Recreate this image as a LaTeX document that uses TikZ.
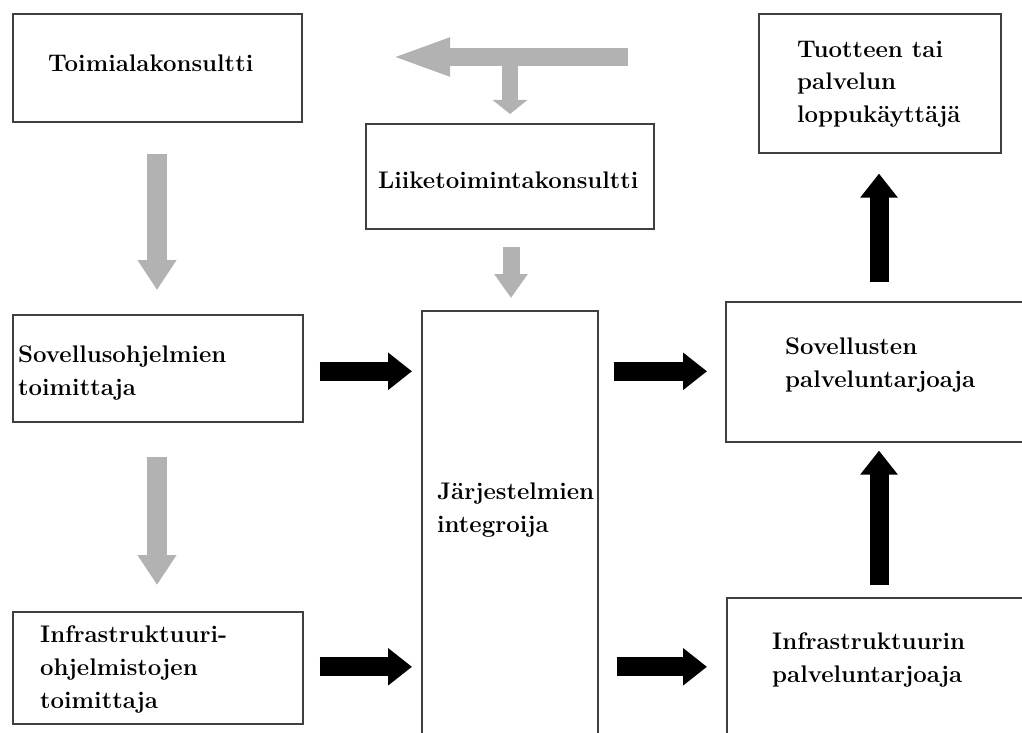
\documentclass[tikz,border=0pt]{standalone}
\usepackage{fontspec}
\setmainfont{Latin Modern Roman}
\usetikzlibrary{arrows.meta,calc}
\begin{document}
\begin{tikzpicture}[x=1pt,y=-1pt,
  box/.style={draw=black!75,line width=1.6pt,fill=white,inner sep=0pt,anchor=north west},
  lbl/.style={font=\fontsize{24}{33}\selectfont\bfseries,align=left,inner sep=0pt,anchor=base west},
  blk/.style={line width=19pt,-{Triangle[length=24pt,width=36pt]}},
  gry/.style={line width=20pt,gray!60,-{Triangle[length=30pt,width=37pt]}},
  gryT/.style={line width=18pt,gray!60}]
\useasboundingbox (0,0) rectangle (1022,733);
\fill[white] (0,0) rectangle (1022,733);
% boxes
\node[box,minimum width=289pt,minimum height=108pt] (toim) at (12,13) {};
\node[box,minimum width=288pt,minimum height=105pt] (liik) at (365,123) {};
\node[box,minimum width=290pt,minimum height=107pt] (sov) at (12,314) {};
\node[box,minimum width=176pt,minimum height=440pt] (jar) at (421,310) {};
\node[box,minimum width=290pt,minimum height=112pt] (inf) at (12,611) {};
\node[box,minimum width=242pt,minimum height=139pt] (tuo) at (758,13) {};
\node[box,minimum width=310pt,minimum height=140pt] (spal) at (725,301) {};
\node[box,minimum width=310pt,minimum height=160pt] (ipal) at (726,597) {};
% texts (anchor = baseline of last line)
\node[lbl] (t1) at (48,72) {Toimialakonsultti};
\node[lbl] (t2) at (378,188) {Liiketoimintakonsultti};
\node[lbl] (t3) at (18,395) {Sovellusohjelmien\\toimittaja};
\node[lbl] (t4) at (437,532) {Järjestelmien\\integroija};
\node[lbl] (t5) at (40,708) {Infrastruktuuri-\\ohjelmistojen\\toimittaja};
\node[lbl] (t6) at (797,123) {Tuotteen tai\\palvelun\\loppukäyttäjä};
\node[lbl] (t7) at (785,387) {Sovellusten\\palveluntarjoaja};
\node[lbl] (t8) at (772,682) {Infrastruktuurin\\palveluntarjoaja};
% black arrows
\draw[blk,shorten <=16pt,shorten >=9pt] ([yshift=-3pt]sov.east) -- ([yshift=-3pt]sov.east -| jar.west);
\draw[blk,shorten <=15pt,shorten >=18pt] ([yshift=-3pt]sov.east -| jar.east) -- ([yshift=-3pt]sov.east -| spal.west);
\draw[blk,shorten <=16pt,shorten >=9pt] ([yshift=1pt]inf.east) -- ([yshift=1pt]inf.east -| jar.west);
\draw[blk,shorten <=18pt,shorten >=19pt] ([yshift=1pt]inf.east -| jar.east) -- ([yshift=1pt]inf.east -| ipal.west);
\coordinate (ux) at (879,0);
\draw[blk,shorten <=19pt,shorten >=20pt] (ux |- spal.north) -- (ux |- tuo.south);
\draw[blk,shorten <=12pt,shorten >=8pt] (ux |- ipal.north) -- (ux |- spal.south);
% gray arrows
\coordinate (gx) at (157,0);
\draw[gry,shorten <=31pt,shorten >=24pt] (gx |- toim.south) -- (gx |- sov.north);
\draw[gry,shorten <=34pt,shorten >=26pt] (gx |- sov.south) -- (gx |- inf.north);
\coordinate (lx) at (511,0);
\draw[gry,line width=17pt,-{Triangle[length=24pt,width=32pt]},shorten <=17pt,shorten >=12pt] (lx |- liik.south) -- (lx |- jar.north);
\coordinate (tR) at (628,57);
\coordinate (tL) at (390,57);
\coordinate (tJ) at (510,57);
\draw[gryT,-{Triangle[length=60pt,width=34pt]}] (tR) -- (tL);
\draw[gry,line width=16pt,-{Triangle[length=14pt,width=34pt]},shorten >=9pt] (tJ) -- (tJ |- liik.north);
\end{tikzpicture}
\end{document}
